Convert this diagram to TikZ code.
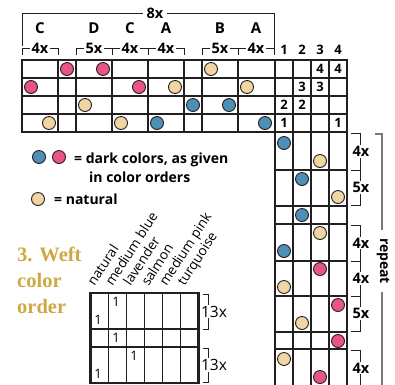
\documentclass[tikz,border=0pt]{standalone}
\usepackage{fontspec}
\setmainfont{Open Sans}
\newfontfamily\titleserif{Liberation Serif}
\usetikzlibrary{positioning}
\usepackage{xcolor}

\definecolor{inkline}{RGB}{35,31,32}
\definecolor{wvblue}{RGB}{78,143,184}
\definecolor{wvpink}{RGB}{232,84,134}
\definecolor{wvtan}{RGB}{241,214,163}
\definecolor{wvgold}{RGB}{208,168,66}
\definecolor{repgray}{RGB}{120,120,120}

\begin{document}
\begin{tikzpicture}[x=1pt, y=-1pt,
  dot/.style={circle, draw=inkline, line width=0.9pt, minimum size=13pt, inner sep=0pt},
  cell/.style={draw=inkline, line width=1.8pt},
  border/.style={draw=inkline, line width=2.8pt},
  brace/.style={draw=inkline, line width=0.8pt},
  count/.style={fill=white, inner sep=1.2pt, font=\bfseries\fontsize{14.5}{14.5}\selectfont},
  block/.style={font=\bfseries\fontsize{15}{15}\selectfont},
  num/.style={font=\bfseries\fontsize{13}{13}\selectfont, inner sep=0pt},
  legend/.style={font=\bfseries\fontsize{14}{16}\selectfont, anchor=base west, inner sep=0pt},
  colorname/.style={font=\fontsize{13.5}{13.5}\selectfont, rotate=57, anchor=base west, inner sep=0pt}
]
\useasboundingbox (0,0) rectangle (395,384);

% threading + treadling grid
\foreach \x in {58,76,112,148,184,202,238} \draw[cell] (\x,60) -- (\x,132);
\foreach \y in {78,96,114} \draw[cell] (22,\y) -- (347,\y);
\foreach \x in {293,311,329} \draw[cell] (\x,60) -- (\x,386);
\foreach \y in {170,206,224,261,296,332,349} \draw[cell] (275,\y) -- (347,\y);
\draw[border] (275,386) -- (275,132) -- (22,132) -- (22,60) -- (347,60) -- (347,386);
\draw[border] (275,60) -- (275,132) -- (347,132);

% block brackets on top
\draw[brace] (22,46) -- (22,13) -- (274,13) -- (274,50);
\node[count, inner xsep=4pt] (rep8) at (155,13) {8x};
\foreach \xa/\xb/\blk/\n [count=\i] in {22/58/C/4x, 76/112/D/5x, 112/148/C/4x, 148/184/A/4x, 202/238/B/5x, 238/274/A/4x} {
  \draw[brace] (\xa,55) -- (\xa,48) -- (\xb,48) -- (\xb,55);
  \node[count] (cnt\i) at ({(\xa+\xb)/2},48) {\n};
  \node[block] (blk\i) at ({(\xa+\xb)/2},28) {\blk};
}
\foreach \n in {1,...,4} \node[num] (col\n) at (266+18*\n,50) {\n};

% tie-up
\foreach \m/\r/\n [count=\i] in {3/1/4, 4/1/4, 2/2/3, 3/2/3, 1/3/2, 2/3/2, 1/4/1, 4/4/1}
  \node[num] (tie\i) at (266+18*\m,51+18*\r) {\n};

% threading dots
\foreach \k/\r/\c [count=\i] in {3/1/wvpink, 5/1/wvpink, 11/1/wvtan, 1/2/wvpink, 7/2/wvpink, 9/2/wvtan, 13/2/wvtan, 4/3/wvtan, 10/3/wvblue, 12/3/wvblue, 2/4/wvtan, 6/4/wvtan, 8/4/wvblue, 14/4/wvblue}
  \node[dot, fill=\c] (th\i) at (13+18*\k,51+18*\r) {};

% treadling dots
\foreach \j/\m/\c in {1/1/wvblue, 2/3/wvtan, 3/2/wvblue, 4/4/wvtan, 5/2/wvblue, 6/3/wvtan, 7/1/wvblue, 8/3/wvpink, 9/1/wvtan, 10/4/wvpink, 11/2/wvtan, 12/4/wvpink, 13/1/wvtan, 14/3/wvpink}
  \node[dot, fill=\c] (tr\j) at (266+18*\m,125+18*\j) {};

% treadling brackets
\foreach \ya/\yb/\n [count=\i] in {133/170/4x, 170/205/5x, 225/261/4x, 261/296/4x, 296/331/5x, 350/386/4x} {
  \draw[brace] (351,\ya) -- (360,\ya) -- (360,\yb) -- (351,\yb);
  \node[count, inner sep=1pt] (tcnt\i) at (361,{(\ya+\yb)/2}) {\n};
}
\draw[repgray, line width=1.2pt] (375,134) -- (382,134) -- (382,386);
\node[fill=white, rotate=-90, inner xsep=8pt, inner ysep=1pt, font=\bfseries\fontsize{14}{14}\selectfont] (repeat) at (383,261) {repeat};

% legend
\node[dot, fill=wvblue] (lgblue) at (39,157) {};
\node[dot, fill=wvpink] (lgpink) at (59,157) {};
\node[legend] (lgdark) at (74,163) {= dark colors, as given};
\node[legend] (lgorder) at (89,182) {in color orders};
\node[dot, fill=wvtan] (lgnat) at (38,199) {};
\node[legend] (lgnattext) at (54,204) {= natural};

% weft color order
\node[anchor=north west, align=left, text=wvgold, inner sep=0pt,
  font=\titleserif\bfseries\fontsize{20.5}{26}\selectfont] (title) at (17,247) {3. Weft\\color\\order};
\foreach \x in {108.5,126.5,144.5,162.5,180.5} \draw[cell] (\x,293) -- (\x,383);
\foreach \y in {329,347} \draw[cell] (90.5,\y) -- (198.5,\y);
\draw[border] (90.5,293) rectangle (198.5,383);
\foreach \name [count=\i] in {natural, medium blue, lavender, salmon, medium pink, turquoise}
  \node[colorname] (hdr\i) at (76.5+18*\i,287) {\name};
\foreach \x/\y [count=\i] in {116/302, 98/320, 116/338, 134/356, 98/374}
  \node[inner sep=0pt, font=\fontsize{13}{13}\selectfont] (one\i) at (\x,\y) {1};
\foreach \ya/\yb [count=\i] in {294/329, 348/382} {
  \draw[brace] (203,\ya) -- (208,\ya) -- (208,\yb) -- (203,\yb);
  \node[fill=white, inner sep=1pt, font=\fontsize{15.5}{15.5}\selectfont] (wcnt\i) at (214,{(\ya+\yb)/2}) {13x};
}
\end{tikzpicture}
\end{document}
